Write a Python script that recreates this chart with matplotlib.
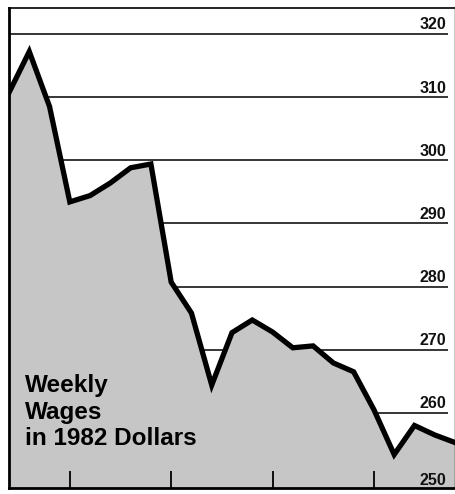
import matplotlib
matplotlib.use("Agg")
import matplotlib.pyplot as plt
import numpy as np

# weekly wages in 1982 dollars (evenly spaced periods)
wages = [310.7, 317.2, 308.5, 293.4, 294.4, 296.4, 298.8, 299.4, 280.7, 275.8,
         264.4, 272.7, 274.7, 272.8, 270.3, 270.6, 267.9, 266.5, 260.5, 253.4,
         258.0, 256.5, 255.3]
grid_levels = [260, 270, 280, 290, 300, 310, 320]
label_levels = [250, 260, 270, 280, 290, 300, 310, 320]
tick_positions = [3, 8, 13, 18]
title_lines = ["Weekly", "Wages", "in 1982 Dollars"]

plt.rcParams['font.family'] = ['Liberation Sans', 'DejaVu Sans']

fig = plt.figure(figsize=(4.56, 4.94), dpi=100)
ax = fig.add_axes([9 / 456, 6 / 494, 446 / 456, 480 / 494])

x = np.arange(len(wages))
ax.set_xlim(0, len(wages) - 1)
ax.set_ylim(248.1, 324.1)

# horizontal rules stop a little short of the right border
ytrans = ax.get_yaxis_transform()
ax.hlines(grid_levels, 0, 0.984, transform=ytrans, color='black', lw=1.1, zorder=0.5)

ax.fill_between(x, wages, 240, color='#c6c6c6', lw=0, zorder=1)
ax.plot(x, wages, color='black', lw=3.8, solid_joinstyle='miter', zorder=3)

for lv in label_levels:
    off = -1.4 if lv == 250 else 0.7
    ax.text(0.981, lv + off, str(lv), transform=ytrans, ha='right', va='baseline',
            fontsize=11.5, fontweight='bold', color='#111111', zorder=4)

# va='baseline' puts the last line's baseline at y
ax.text(0.036, 0.0896, "\n".join(title_lines), transform=ax.transAxes,
        ha='left', va='baseline', fontsize=17.5, fontweight='bold',
        linespacing=1.19, zorder=4)

ax.set_yticks([])
ax.set_xticks(tick_positions)
ax.set_xticklabels([])
ax.tick_params(axis='x', direction='in', length=12, width=1.3, color='black')

for side, w in [('left', 2.0), ('bottom', 2.0), ('top', 1.2), ('right', 1.0)]:
    ax.spines[side].set_linewidth(w)
    ax.spines[side].set_zorder(5)

fig.savefig("out.png", dpi=100)
